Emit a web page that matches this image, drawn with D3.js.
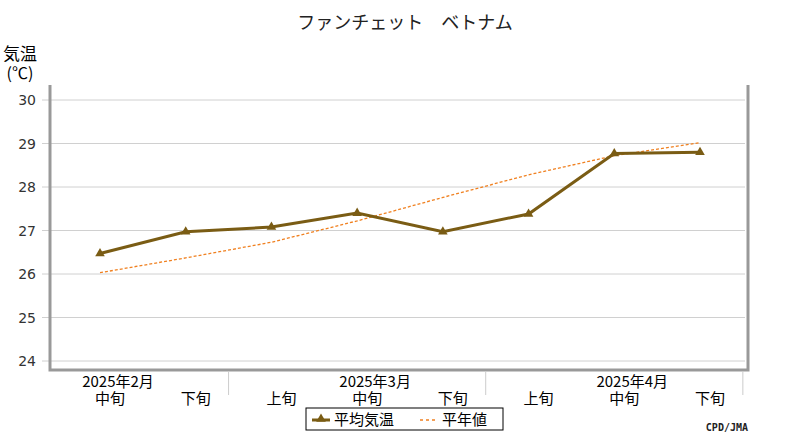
<!DOCTYPE html>
<html><head><meta charset="utf-8">
<script src="https://cdn.jsdelivr.net/npm/d3@7"></script>
<style>body{margin:0;background:#fff;font-family:"Noto Sans CJK JP",sans-serif;}</style>
</head><body>
<script>
var periods = ["中旬","下旬","上旬","中旬","下旬","上旬","中旬","下旬"];
var months = [{label:"2025年2月", at:0},{label:"2025年3月", at:3},{label:"2025年4月", at:6}];
var temps = [26.47, 26.97, 27.08, 27.40, 26.97, 27.38, 28.77, 28.80];
var normals = [26.03, 26.37, 26.73, 27.22, 27.76, 28.28, 28.72, 29.02];
var yTicks = [24,25,26,27,28,29,30];

var svg = d3.select("body").append("svg").attr("width",800).attr("height",440);
var x = d3.scalePoint().domain(d3.range(periods.length)).range([100,700]);
var y = d3.scaleLinear().domain([24,30]).range([361,100]);
var step = x.step();

svg.append("text").attr("x",405).attr("y",29).attr("text-anchor","middle")
  .attr("font-size",18).attr("fill","#222").text("ファンチェット\u3000ベトナム");
svg.append("text").attr("x",20).attr("y",60).attr("text-anchor","middle").attr("font-size",17).text("気温");
svg.append("text").attr("x",20).attr("y",79).attr("text-anchor","middle").attr("font-size",16).text("(℃)");

svg.selectAll(".grid").data(yTicks).enter().append("line")
  .attr("x1",42).attr("x2",745).attr("y1",d=>y(d)).attr("y2",d=>y(d))
  .attr("stroke","#d0d0d0");
svg.selectAll(".yl").data(yTicks).enter().append("text")
  .attr("x",36).attr("y",d=>y(d)+5).attr("text-anchor","end").attr("font-size",14)
  .attr("font-family","DejaVu Sans").attr("fill","#333").text(d=>d);

// frame
svg.append("path").attr("d","M50,85V370H748V85").attr("fill","none")
  .attr("stroke","#999").attr("stroke-width",3);
// month separators
[2,5,8].forEach(function(i){
  var xx = x(0) + (i-0.5)*step;
  svg.append("line").attr("x1",xx).attr("x2",xx).attr("y1",371).attr("y2",395).attr("stroke","#ccc");
});
svg.selectAll(".pl").data(periods).enter().append("text")
  .attr("x",(d,i)=>x(i)+10).attr("y",404).attr("text-anchor","middle").attr("font-size",15).text(d=>d);
svg.selectAll(".ml").data(months).enter().append("text")
  .attr("x",d=>x(d.at)+18).attr("y",387).attr("text-anchor","middle").attr("font-size",15).text(d=>d.label);

var line = d3.line().x((d,i)=>x(i)).y(d=>y(d));
svg.append("path").datum(normals).attr("d",line).attr("fill","none")
  .attr("stroke","#f08020").attr("stroke-width",1.3).attr("stroke-dasharray","3,2");
svg.append("path").datum(temps).attr("d",line).attr("fill","none")
  .attr("stroke","#7a5c14").attr("stroke-width",3);
var tri = d3.symbol().type(d3.symbolTriangle).size(40);
svg.selectAll(".pt").data(temps).enter().append("path")
  .attr("d",tri).attr("transform",(d,i)=>"translate("+x(i)+","+y(d)+")").attr("fill","#7a5c14");

// legend
var lg = svg.append("g");
lg.append("rect").attr("x",306).attr("y",408).attr("width",197).attr("height",22).attr("fill","#fff").attr("stroke","#000");
lg.append("line").attr("x1",312).attr("x2",330).attr("y1",420).attr("y2",420).attr("stroke","#7a5c14").attr("stroke-width",3);
lg.append("path").attr("d",tri).attr("transform","translate(321,419)").attr("fill","#7a5c14");
lg.append("text").attr("x",334).attr("y",425).attr("font-size",15).text("平均気温");
lg.append("line").attr("x1",420).attr("x2",438).attr("y1",420).attr("y2",420).attr("stroke","#f08020").attr("stroke-width",1.3).attr("stroke-dasharray","3,3");
lg.append("text").attr("x",442).attr("y",425).attr("font-size",15).text("平年値");
svg.append("text").attr("x",748).attr("y",431).attr("text-anchor","end").attr("font-size",10)
  .attr("font-family","DejaVu Sans Mono").attr("font-weight","bold").attr("fill","#222").text("CPD/JMA");
</script>
</body></html>
